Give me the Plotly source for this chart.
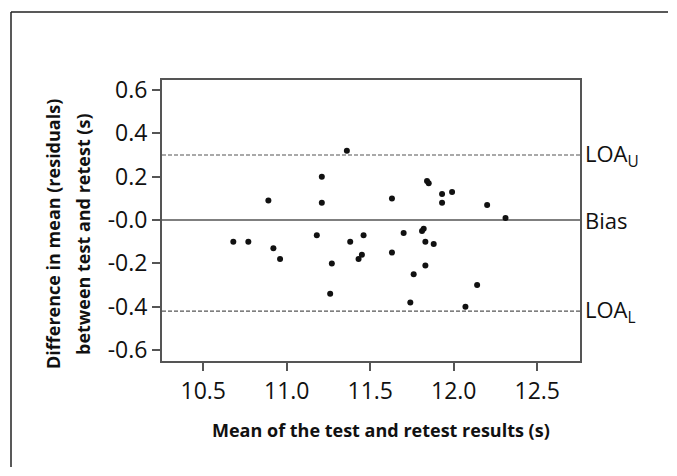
import plotly.graph_objects as go

# ---- data ----
mean_x = [11.36, 11.21, 10.89, 11.21, 11.63, 11.84, 11.85, 11.93, 11.99, 11.93,
          12.20, 12.31, 10.68, 10.77, 10.92, 10.96, 11.18, 11.27, 11.26, 11.38,
          11.46, 11.45, 11.43, 11.63, 11.70, 11.81, 11.82, 11.83, 11.88, 11.83,
          11.76, 11.74, 12.07, 12.14]
diff_y = [0.32, 0.20, 0.09, 0.08, 0.10, 0.18, 0.17, 0.12, 0.13, 0.08,
          0.07, 0.01, -0.10, -0.10, -0.13, -0.18, -0.07, -0.20, -0.34, -0.10,
          -0.07, -0.16, -0.18, -0.15, -0.06, -0.05, -0.04, -0.10, -0.11, -0.21,
          -0.25, -0.38, -0.40, -0.30]
loa_upper = 0.30
bias = 0.0
loa_lower = -0.42
x_ticks = [10.5, 11.0, 11.5, 12.0, 12.5]
x_tick_labels = ["10.5", "11.0", "11.5", "12.0", "12.5"]
y_ticks = [0.6, 0.4, 0.2, 0.0, -0.2, -0.4, -0.6]
y_tick_labels = ["0.6", "0.4", "0.2", "-0.0", "-0.2", "-0.4", "-0.6"]
ref_labels = ["LOA<sub>U</sub>", "Bias", "LOA<sub>L</sub>"]
ref_values = [loa_upper, bias, loa_lower]
ref_dash = ["dash", "solid", "dash"]
y_title_lines = ["Difference in mean (residuals)", "between test and retest (s)"]
x_title = "Mean of the test and retest results (s)"

# page has an 8px body margin: work in page pixels, convert to figure pixels
OFF = 8
W, H = 677 - 2 * OFF, 476 - 2 * OFF
PL, PR, PT, PB = 162, 580, 80, 361  # plot area in page pixels
ML, MR, MT, MB = PL - OFF, W - (PR - OFF), PT - OFF, H - (PB - OFF)
PW, PH = W - ML - MR, H - MT - MB

def px_to_paper_x(px):
    return (px - OFF - ML) / PW

def py_to_paper_y(py):
    return (H - MB - (py - OFF)) / PH

FONT = "Open Sans"

fig = go.Figure()
fig.add_trace(go.Scatter(
    x=mean_x, y=diff_y, mode="markers",
    marker=dict(color="#111111", size=6),
    showlegend=False, hoverinfo="skip",
))

shapes = []
for v, d in zip(ref_values, ref_dash):
    shapes.append(dict(
        type="line", xref="paper", yref="y", x0=0, x1=1, y0=v, y1=v,
        line=dict(color="#555555", width=1.6 if d == "solid" else 1.1,
                  dash="solid" if d == "solid" else "4px,2px"),
        layer="below",
    ))
# outer frame of the figure panel (top and left edges, kept inside the figure)
frame_line = dict(color="#222222", width=1.5)
right_edge = OFF + W - 1
bottom_edge = OFF + H - 1
shapes.append(dict(type="line", xref="paper", yref="paper",
                   x0=px_to_paper_x(11), x1=px_to_paper_x(right_edge),
                   y0=py_to_paper_y(12), y1=py_to_paper_y(12), line=frame_line))
shapes.append(dict(type="line", xref="paper", yref="paper",
                   x0=px_to_paper_x(11), x1=px_to_paper_x(11),
                   y0=py_to_paper_y(12), y1=py_to_paper_y(bottom_edge), line=frame_line))

annotations = []
for lab, v in zip(ref_labels, ref_values):
    annotations.append(dict(
        text=lab, xref="paper", yref="y", x=px_to_paper_x(583), y=v,
        xanchor="left", yanchor="middle", showarrow=False,
        font=dict(family=FONT, size=22, color="#111111"),
    ))
for line_text, cx in zip(y_title_lines, [53, 83]):
    annotations.append(dict(
        text="<b>" + line_text + "</b>",
        xref="paper", yref="paper", x=px_to_paper_x(cx), y=py_to_paper_y(234),
        xanchor="center", yanchor="middle", textangle=-90, showarrow=False,
        font=dict(family=FONT, size=18, color="#111111"),
    ))
annotations.append(dict(
    text="<b>" + x_title + "</b>",
    xref="paper", yref="paper", x=px_to_paper_x(381), y=py_to_paper_y(430),
    xanchor="center", yanchor="middle", showarrow=False,
    font=dict(family=FONT, size=18, color="#111111"),
))

axis_common = dict(
    showgrid=False, zeroline=False, showline=True, mirror=True,
    linecolor="#555555", linewidth=2,
    ticks="outside", ticklen=8, tickcolor="#555555", tickwidth=1.5,
    tickfont=dict(family=FONT, size=23, color="#111111"),
)

fig.update_layout(
    width=W, height=H,
    margin=dict(l=ML, r=MR, t=MT, b=MB, pad=0),
    paper_bgcolor="white", plot_bgcolor="white",
    shapes=shapes, annotations=annotations,
    font=dict(family=FONT, color="#111111"),
    xaxis=dict(range=[10.253, 12.756], tickvals=x_ticks, ticktext=x_tick_labels, **axis_common),
    yaxis=dict(range=[-0.65, 0.646], tickvals=y_ticks, ticktext=y_tick_labels, **axis_common),
)

fig.write_html("out.html")
